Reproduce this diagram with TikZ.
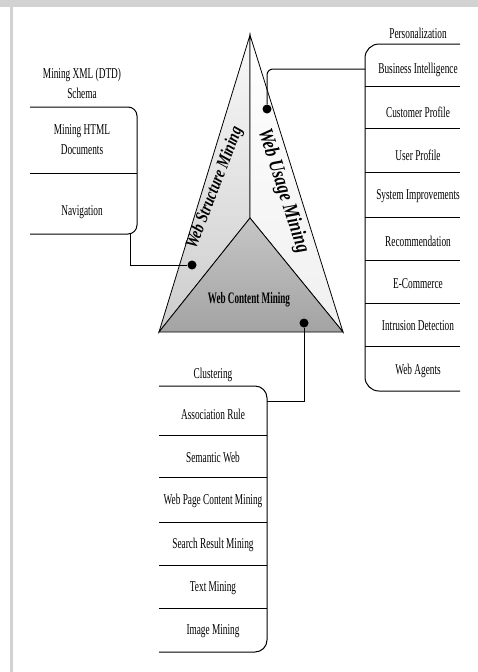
\documentclass[tikz,border=0pt]{standalone}
\usepackage{fontspec}
\setmainfont[FakeStretch=0.62]{Liberation Serif}
\newfontfamily\facefont[FakeStretch=0.78]{Liberation Serif}
\newfontfamily\basefont[FakeStretch=0.57]{Liberation Serif}
\begin{document}
\begin{tikzpicture}[x=1pt,y=-1pt,
    item/.style={font=\fontsize{15}{20}\selectfont,align=center,inner sep=0pt},
    face/.style={inner sep=0pt,font=\facefont\bfseries\itshape\fontsize{#1}{#1}\selectfont},
    dot/.style={circle,fill=black,inner sep=0pt,minimum size=9pt},
    boxline/.style={line width=1pt},
    edge/.style={line width=0.8pt}]
      \useasboundingbox (0,0) rectangle (478,672);
      \fill[white] (0,0) rectangle (478,672);
      \fill[gray!35] (0,0) rectangle (478,7);
      \fill[gray!35] (10,7) rectangle (13,672);

      \coordinate (apex) at (250,35);
      \coordinate (left) at (159,332);
      \coordinate (right) at (343,332);
      \coordinate (mid) at (250,218);

      \shadedraw[edge,top color=gray!5,bottom color=gray!40] (apex) -- (mid) -- (left) -- cycle;
      \shadedraw[edge,top color=white,bottom color=gray!12] (apex) -- (right) -- (mid) -- cycle;
      \shadedraw[edge,top color=gray!45,bottom color=gray!72] (left) -- (mid) -- (right) -- cycle;

      \node[face=18,rotate=69] (wsm) at (215,188) {Web Structure Mining};
      \node[face=21,rotate=-72] (wum) at (283,191) {Web Usage Mining};
      \node[inner sep=0pt,font=\basefont\bfseries\fontsize{16}{18}\selectfont] (wcm) at (249,300) {Web Content Mining};

      \node[dot] (ds) at (192,265) {};
      \node[dot] (du) at (267,109) {};
      \node[dot] (dc) at (304,323) {};

      \def \StructItems {
        s1/83/Mining XML (DTD)\\Schema,
        s2/140/Mining HTML\\Documents,
        s3/212/Navigation}
      \def \UsageItems {
        u1/33/Personalization,
        u2/70/Business Intelligence,
        u3/112/Customer Profile,
        u4/155/User Profile,
        u5/196/System Improvements,
        u6/241/Recommendation,
        u7/284/E-Commerce,
        u8/326/Intrusion Detection,
        u9/371/Web Agents}
      \def \ContentItems {
        c1/375/Clustering,
        c2/414/Association Rule,
        c3/457/Semantic Web,
        c4/501/Web Page Content Mining,
        c5/545/Search Result Mining,
        c6/588/Text Mining,
        c7/631/Image Mining}

      \foreach \id / \y / \w in \StructItems {
        \node[item] (\id) at (82,\y) {\w};
      }
      \foreach \id / \y / \w in \UsageItems {
        \node[item] (\id) at (418,\y) {\w};
      }
      \foreach \id / \y / \w in \ContentItems {
        \node[item] (\id) at (213,\y) {\w};
      }

      \draw[boxline,rounded corners=9] (30,107) -- (137,107) -- (137,234) -- (30,234);
      \draw[boxline] (30,173) -- (137,173);
      \draw[boxline,rounded corners=14] (460,44) -- (365,44) -- (365,391) -- (460,391);
      \foreach \y in {86,128,172,217,260,303,346} {
        \draw[boxline] (365,\y) -- (460,\y);
      }
      \draw[boxline,rounded corners=12] (159,386) -- (267,386) -- (267,652) -- (159,652);
      \foreach \y in {435,477,522,565,608} {
        \draw[boxline] (159,\y) -- (267,\y);
      }

      \coordinate (sbox) at (130,234);
      \coordinate (ubox) at (365,69);
      \coordinate (cbox) at (267,401);
      \draw[boxline] (ds) -| (sbox);
      \draw[boxline,rounded corners=6] (du) |- (ubox);
      \draw[boxline] (dc) |- (cbox);
    \end{tikzpicture}
\end{document}
